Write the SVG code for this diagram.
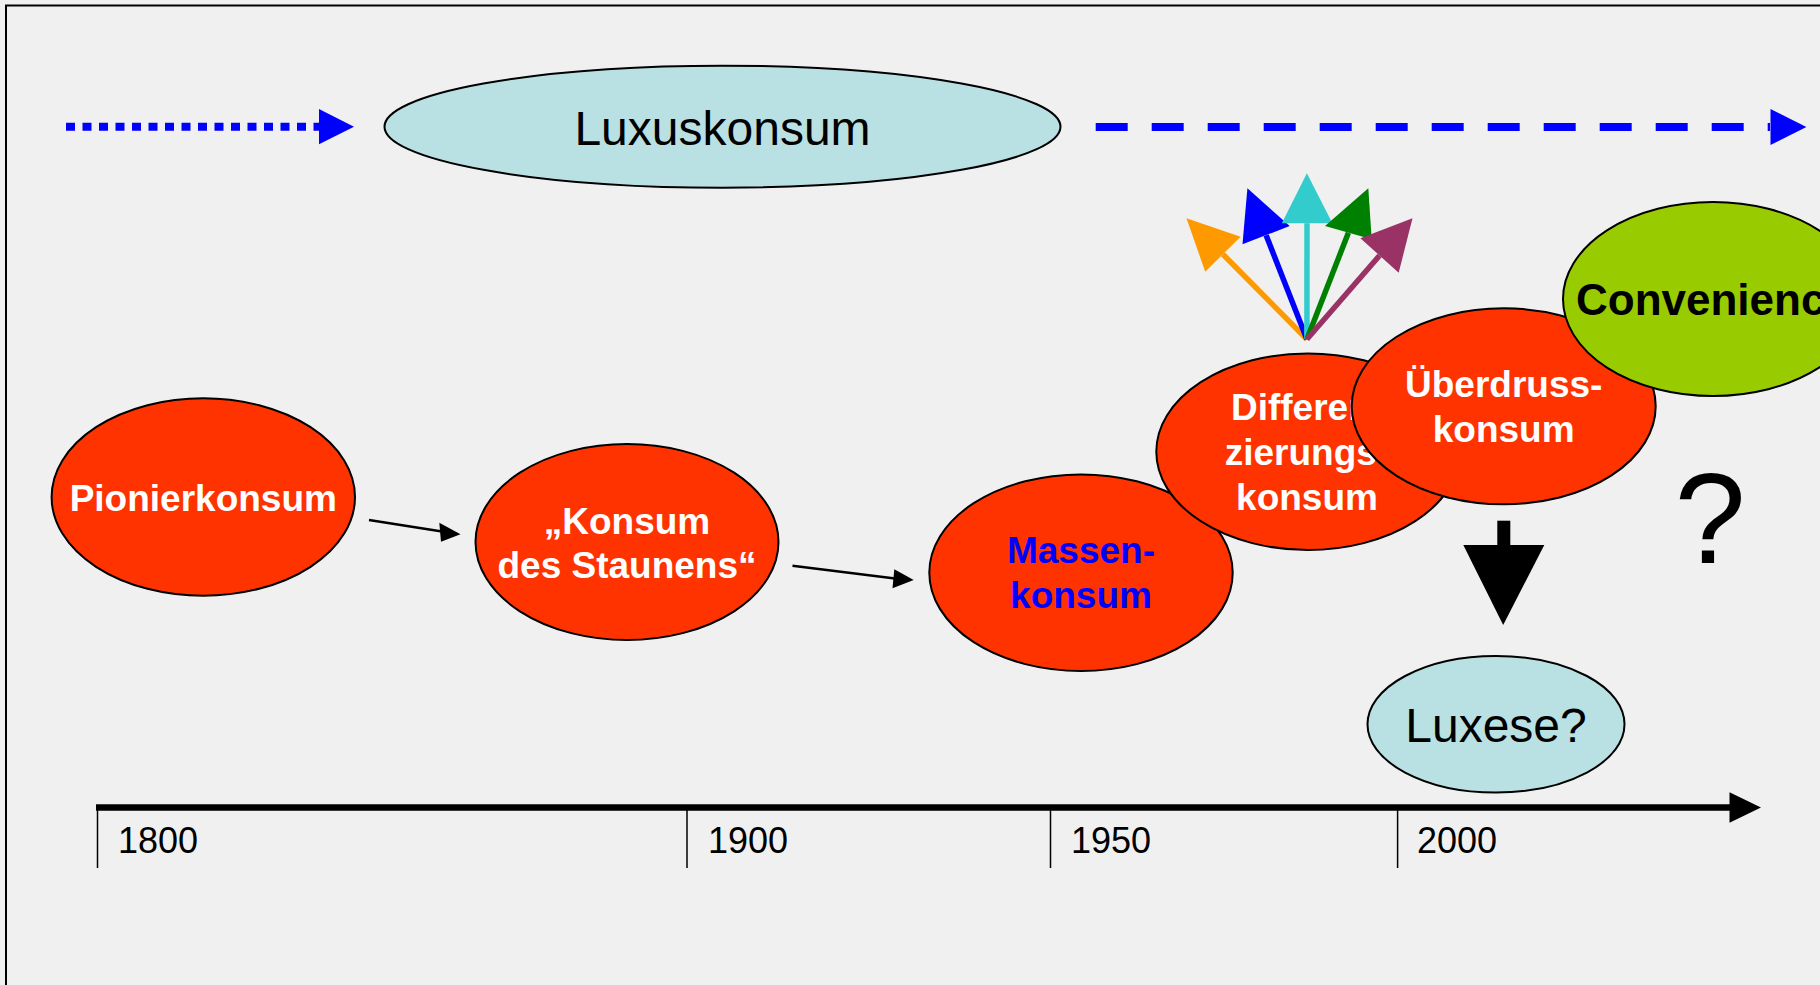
<svg xmlns="http://www.w3.org/2000/svg" width="1820" height="985" viewBox="0 0 1820 985">
<defs>
<style>
.red{fill:#ff3300;stroke:#000;stroke-width:2}
.lux{fill:#b9e0e3;stroke:#000;stroke-width:2}
.lbl{font-family:"Liberation Sans",Arial,sans-serif;font-weight:bold;font-size:37px;fill:#fff;text-anchor:middle}
.reg{font-family:"Liberation Sans",Arial,sans-serif;font-size:48px;fill:#000;text-anchor:middle}
.year{font-family:"Liberation Sans",Arial,sans-serif;font-size:36px;fill:#000}
</style>
</defs>
<rect x="0" y="0" width="1820" height="985" fill="#f0f0f0"/>
<path d="M6 985 V5.5 H1820" fill="none" stroke="#000" stroke-width="2"/>

<g id="luxuskonsum">
<ellipse class="lux" cx="722.5" cy="126.7" rx="338" ry="61"/>
<text class="reg" x="722.5" y="145">Luxuskonsum</text>
</g>

<g id="pionierkonsum">
<ellipse class="red" cx="203.3" cy="497" rx="151.7" ry="98.7"/>
<text class="lbl" x="203.3" y="510.7">Pionierkonsum</text>
</g>

<g id="staunens">
<ellipse class="red" cx="627" cy="542" rx="151.5" ry="98"/>
<text class="lbl" x="627" y="534">„Konsum</text>
<text class="lbl" x="627" y="578.3">des Staunens“</text>
</g>

<g id="massenkonsum">
<ellipse class="red" cx="1081" cy="572.7" rx="151.7" ry="98.3"/>
<text class="lbl" x="1081" y="563.3" style="fill:#0000ff">Massen-</text>
<text class="lbl" x="1081" y="608.3" style="fill:#0000ff">konsum</text>
</g>

<g id="differenzierungskonsum">
<ellipse class="red" cx="1308" cy="451.7" rx="151.7" ry="98.3"/>
<text class="lbl" x="1307" y="420">Differen-</text>
<text class="lbl" x="1307" y="465">zierungs-</text>
<text class="lbl" x="1307" y="510">konsum</text>
</g>

<g id="ueberdrusskonsum">
<ellipse class="red" cx="1503.7" cy="406.3" rx="152" ry="98"/>
<text class="lbl" x="1503.7" y="396.7">Überdruss-</text>
<text class="lbl" x="1503.7" y="441.7">konsum</text>
</g>

<g id="convenience">
<ellipse cx="1713" cy="299" rx="150" ry="97" fill="#99cc00" stroke="#000" stroke-width="2"/>
<text class="lbl" x="1576" y="315" style="fill:#000;font-size:44px;text-anchor:start">Convenience</text>
</g>

<g id="luxese">
<ellipse class="lux" cx="1496" cy="724.3" rx="128.5" ry="68.3"/>
<text class="reg" x="1496" y="741.7">Luxese?</text>
</g>

<g id="question">
<text class="reg" x="1710" y="563" style="font-size:128px">?</text>
</g>

<g id="connectors">
<line x1="66" y1="126.7" x2="319" y2="126.7" stroke="#0000ff" stroke-width="8" stroke-dasharray="9 7.5"/>
<polygon points="319,109 354,126.7 319,144.3" fill="#0000ff"/>
<line x1="1095.7" y1="127" x2="1770" y2="127" stroke="#0000ff" stroke-width="8" stroke-dasharray="32 24"/>
<polygon points="1770.5,109 1806.4,127 1770.5,145" fill="#0000ff"/>

<line x1="369" y1="520" x2="442" y2="531.5" stroke="#000" stroke-width="2.5"/>
<polygon points="439.3,522.7 460.5,534.3 441,541.7" fill="#000"/>
<line x1="792.5" y1="565.7" x2="895" y2="578.5" stroke="#000" stroke-width="2.5"/>
<polygon points="894.3,569.3 913.7,580 892.5,588.3" fill="#000"/>

<g stroke-width="5.5">
<line x1="1306.9" y1="339.3" x2="1222.9" y2="254.2" stroke="#ff9900"/>
<polygon points="1186.5,218.3 1240.6,236.7 1205.2,271.7" fill="#ff9900"/>
<line x1="1306.9" y1="339.3" x2="1266.1" y2="235.2" stroke="#0000ff"/>
<polygon points="1247.4,188.3 1242.5,244.3 1289.7,226" fill="#0000ff"/>
<line x1="1306.9" y1="339.3" x2="1307" y2="223.3" stroke="#33cccc"/>
<polygon points="1306.9,173.3 1281.8,223.3 1332.4,223.3" fill="#33cccc"/>
<line x1="1306.9" y1="339.3" x2="1348.4" y2="232.7" stroke="#008000"/>
<polygon points="1368.3,188.3 1325,226 1371.7,239.3" fill="#008000"/>
<line x1="1306.9" y1="339.3" x2="1379.6" y2="255.5" stroke="#993366"/>
<polygon points="1412.5,218.3 1360.4,238.3 1398.7,272.7" fill="#993366"/>
</g>

<rect x="1497.3" y="520.7" width="13" height="26" fill="#000"/>
<polygon points="1463.3,545 1544.3,545 1503.2,625" fill="#000"/>
</g>

<g id="timeline">
<line x1="96" y1="807.5" x2="1732" y2="807.5" stroke="#000" stroke-width="6.5"/>
<polygon points="1729.5,792.3 1761,807.5 1729.5,822.7" fill="#000"/>
<g stroke="#000" stroke-width="1.5">
<line x1="97.5" y1="807" x2="97.5" y2="868"/>
<line x1="687" y1="807" x2="687" y2="868"/>
<line x1="1050.5" y1="807" x2="1050.5" y2="868"/>
<line x1="1397.6" y1="807" x2="1397.6" y2="868"/>
</g>
<text class="year" x="118" y="853">1800</text>
<text class="year" x="708" y="853">1900</text>
<text class="year" x="1071" y="853">1950</text>
<text class="year" x="1417" y="853">2000</text>
</g>
</svg>
